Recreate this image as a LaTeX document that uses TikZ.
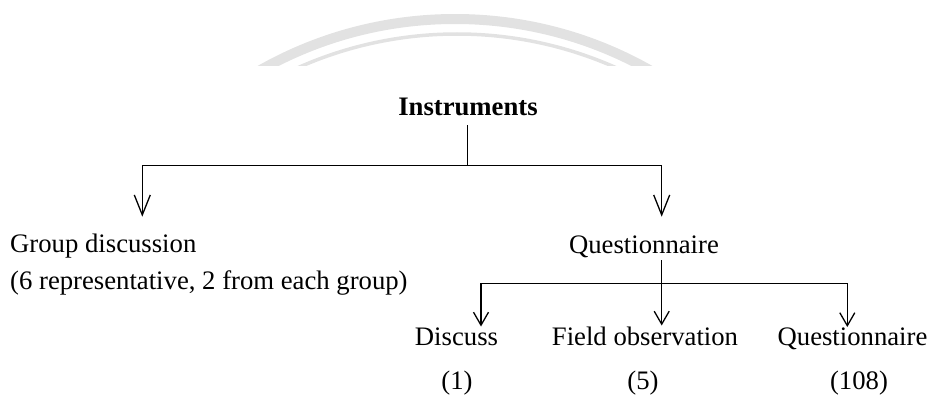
\documentclass[tikz,border=0pt]{standalone}
\usepackage{fontspec}
\setmainfont{Liberation Serif}
\usetikzlibrary{arrows.meta}
\definecolor{wmark}{HTML}{E2E2E2}
\begin{document}
\begin{tikzpicture}[x=1pt,y=-1pt,
  lbl/.style={inner sep=0pt, anchor=base, font=\fontsize{26.7}{32}\selectfont},
  conn/.style={line width=1.3pt, black},
  arrA/.style={conn, -{Straight Barb[length=20pt,width=16pt]}},
  arrB/.style={conn, -{Straight Barb[length=13pt,width=15pt]}}]
\useasboundingbox (0,0) rectangle (932,396);
% faint watermark arcs
\begin{scope}
  \clip (0,0) rectangle (932,66);
  \draw[line width=10pt, wmark] (455,414.5) circle[radius=395.5pt];
  \draw[line width=3.5pt, wmark] (457,425) circle[radius=391pt];
\end{scope}
% texts
\node[lbl] (inst) at (468,115) {\bfseries Instruments};
\node[lbl, anchor=base west] (grp) at (10,252) {Group discussion};
\node[lbl, anchor=base west] (grpsub) at (10,289) {(6 representative, 2 from each group)};
\node[lbl] (quest) at (644,253) {Questionnaire};
\node[lbl] (disc) at (456.5,345) {Discuss};
\node[lbl] (discn) at (457,389) {(1)};
\node[lbl] (field) at (645,345) {Field observation};
\node[lbl] (fieldn) at (643,389) {(5)};
\node[lbl] (qtwo) at (852.5,345) {Questionnaire};
\node[lbl] (qtwon) at (859,389) {(108)};
% level 1 connectors
\coordinate (a0) at (467.7,125);
\coordinate (a1) at (467.7,165.7);
\coordinate (tL) at (142.3,216.7);
\coordinate (tR) at (661.7,216.7);
\draw[conn] (a0) -- (a1);
\draw[arrA] (a1) -| (tL);
\draw[arrA] (a1) -| (tR);
% level 2 connectors
\coordinate (b0) at (661.7,260);
\coordinate (b1) at (661.7,283.5);
\coordinate (tD) at (481,326.5);
\coordinate (tF) at (661.7,325.5);
\coordinate (tQ) at (847.3,327);
\draw[arrB] (b0) -- (tF);
\draw[arrB] (b1) -| (tD);
\draw[arrB] (b1) -| (tQ);
\end{tikzpicture}
\end{document}
